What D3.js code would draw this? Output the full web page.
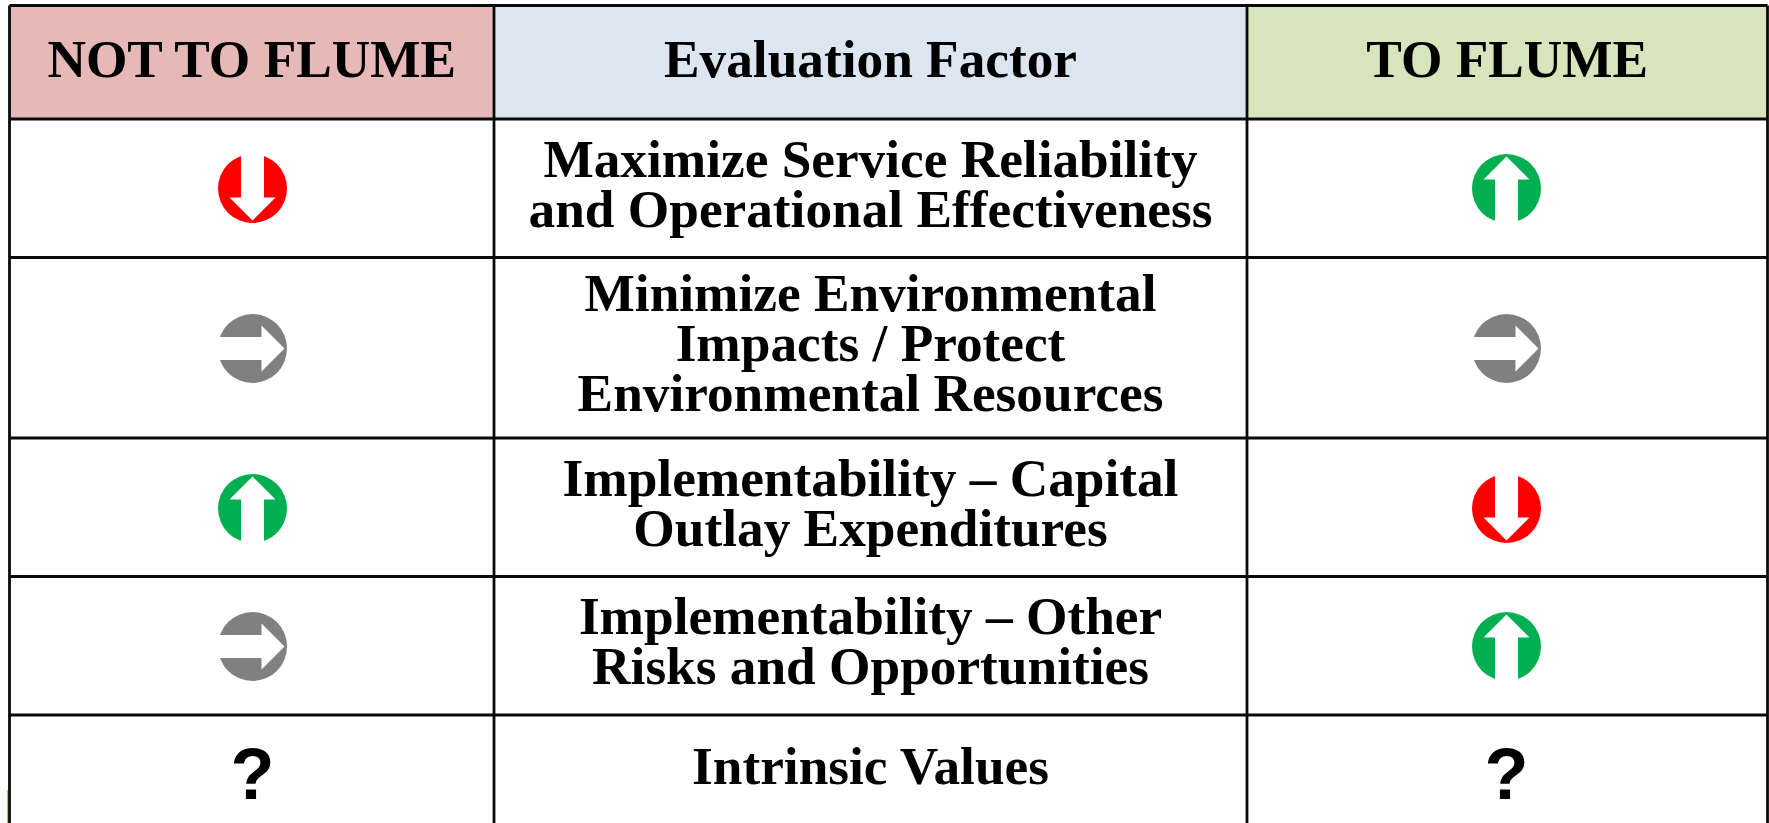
<!DOCTYPE html>
<html>
<head>
<meta charset="utf-8">
<style>
  html, body { margin: 0; padding: 0; background: #fff; overflow: hidden; }
  svg { display: block; }
  .cell-line { stroke: #0a0a0a; stroke-width: 2.8; fill: none; }
  .label { font-family: "Liberation Serif", serif; font-weight: bold; fill: #000; text-anchor: middle; }
  .unknown { font-family: "Liberation Sans", sans-serif; font-weight: bold; fill: #000; text-anchor: middle; }
</style>
<script src="https://cdn.jsdelivr.net/npm/d3@7"></script>
</head>
<body>
<script>
var headers = ['NOT TO FLUME', 'Evaluation Factor', 'TO FLUME'];
var factors = [
  ['Maximize Service Reliability', 'and Operational Effectiveness'],
  ['Minimize Environmental', 'Impacts / Protect', 'Environmental Resources'],
  ['Implementability \u2013 Capital', 'Outlay Expenditures'],
  ['Implementability \u2013 Other', 'Risks and Opportunities'],
  ['Intrinsic Values']
];
var notToFlume = ['down', 'same', 'up', 'same', 'unknown'];
var toFlume = ['up', 'same', 'down', 'up', 'unknown'];

// layout
var width = 1769, height = 823;
var colEdges = [9.5, 494, 1247, 1767.5];
var rowEdges = [5.5, 119, 257.5, 438, 576.5, 715, 860];
var headerFill = ['#e6b8b7', '#dce6f1', '#d8e4bc'];
var ratingFill = { up: '#00b050', down: '#ff0000', same: '#808080' };
var ratingAngle = { up: 0, same: 90, down: 180 };

var svg = d3.select('body').append('svg').attr('width', width).attr('height', height);

var col = d3.scaleOrdinal().domain([0, 1, 2]).range(colEdges.slice(0, 3));
var colEnd = d3.scaleOrdinal().domain([0, 1, 2]).range(colEdges.slice(1));
var row = d3.scaleOrdinal().domain(d3.range(6)).range(rowEdges.slice(0, 6));
var rowEnd = d3.scaleOrdinal().domain(d3.range(6)).range(rowEdges.slice(1));
function colMid(i) { return (col(i) + colEnd(i)) / 2; }
function rowMid(i) { return (row(i) + rowEnd(i)) / 2; }

// header cells
svg.selectAll('rect.head').data(headers).enter().append('rect')
  .attr('class', 'head')
  .attr('x', function(d, i) { return col(i); })
  .attr('y', row(0))
  .attr('width', function(d, i) { return colEnd(i) - col(i); })
  .attr('height', rowEnd(0) - row(0))
  .attr('fill', function(d, i) { return headerFill[i]; });

svg.selectAll('text.head').data(headers).enter().append('text')
  .attr('class', 'label head')
  .attr('x', function(d, i) { return colMid(i); })
  .attr('y', 76.5)
  .style('font-size', '53.3px')
  .text(function(d) { return d; });

// factor column
var lineGap = 49.8;
var fg = svg.selectAll('g.factor').data(factors).enter().append('g').attr('class', 'factor');
fg.selectAll('text').data(function(d, i) {
    return d.map(function(t, j) { return { t: t, j: j, n: d.length, r: i + 1 }; });
  }).enter().append('text')
  .attr('class', 'label')
  .attr('x', colMid(1))
  .attr('y', function(d) {
    if (d.r === 5) return 784; // last row runs off the page, so not centred
    return rowMid(d.r) + (d.j - (d.n - 1) / 2) * lineGap + 13.5;
  })
  .style('font-size', '53.3px')
  .text(function(d) { return d.t; });

// rating icons
var iconCol = [252.5, 1506.5];
var iconRow = [188.5, 348.5, 508.5, 646.5, 774];
// shaft runs past the circle so it cuts the disc clean through
var arrowPath = d3.line()([[-11.5, 37], [-11.5, -9], [-23, -9], [0, -32], [23, -9], [11.5, -9], [11.5, 37]]) + 'Z';

function drawRatings(ratings, cx) {
  var g = svg.selectAll(null).data(ratings).enter().append('g')
    .attr('transform', function(d, i) { return 'translate(' + cx + ',' + iconRow[i] + ')'; });
  var known = g.filter(function(d) { return d !== 'unknown'; });
  known.append('circle').attr('r', 34.5).attr('fill', function(d) { return ratingFill[d]; });
  known.append('path').attr('d', arrowPath).attr('fill', '#fff')
    .attr('transform', function(d) { return 'rotate(' + ratingAngle[d] + ')'; });
  g.filter(function(d) { return d === 'unknown'; }).append('text')
    .attr('class', 'unknown')
    .attr('y', 25)
    .style('font-size', '72px')
    .text('?');
}
drawRatings(notToFlume, iconCol[0]);
drawRatings(toFlume, iconCol[1]);

// grid
svg.selectAll('line.v').data(colEdges).enter().append('line')
  .attr('class', 'cell-line')
  .attr('x1', function(d) { return d; }).attr('x2', function(d) { return d; })
  .attr('y1', rowEdges[0]).attr('y2', height);
svg.selectAll('line.h').data(rowEdges.slice(0, 6)).enter().append('line')
  .attr('class', 'cell-line')
  .attr('x1', colEdges[0]).attr('x2', colEdges[3])
  .attr('y1', function(d) { return d; }).attr('y2', function(d) { return d; });

// little orange sliver at the bottom left of the source image
svg.append('line')
  .attr('x1', 7.5).attr('x2', 7.5).attr('y1', 790).attr('y2', height)
  .attr('stroke', '#e0a56a').attr('stroke-width', 1);
</script>
</body>
</html>
